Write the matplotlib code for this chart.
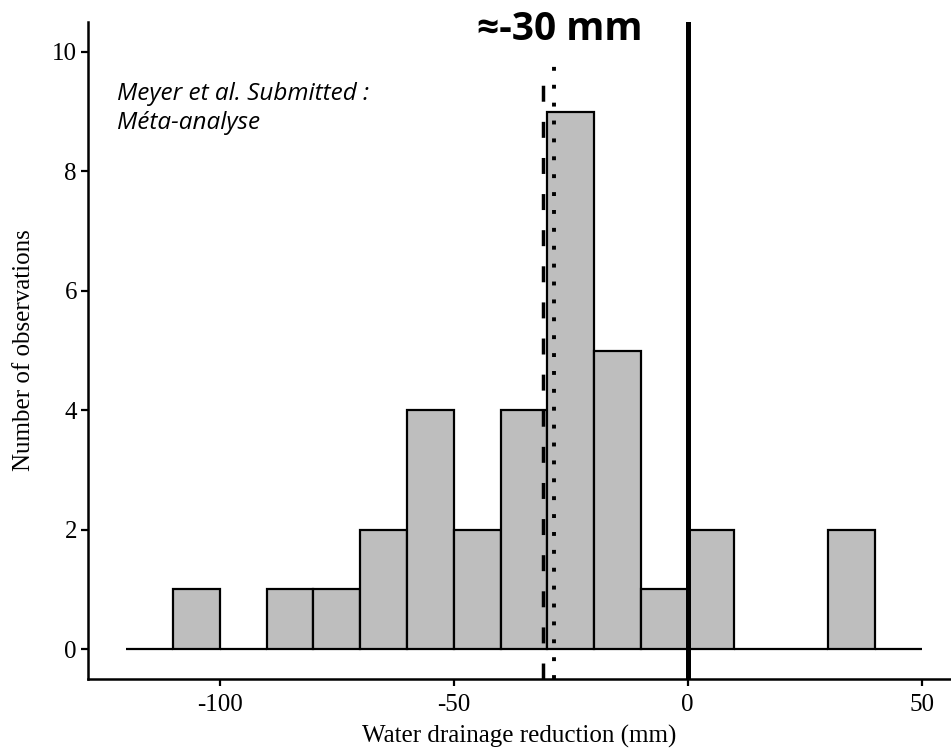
import matplotlib
matplotlib.use('Agg')
from matplotlib import pyplot as plt

# histogram counts, bins of 10 mm from -120 to 50
bin_edges = [-120, -110, -100, -90, -80, -70, -60, -50, -40, -30, -20, -10, 0, 10, 20, 30, 40, 50]
counts = [0, 1, 0, 1, 1, 2, 4, 2, 4, 9, 5, 1, 2, 0, 0, 2, 0]

median_line = -31
mean_line = -28.5
zero_line = 0

x_ticks = [-100, -50, 0, 50]
x_ticklabels = ['-100', '-50', '0', '50']
y_ticks = [0, 2, 4, 6, 8, 10]

fig = plt.figure(figsize=(9.51, 7.48), dpi=100)
ax = fig.add_axes([88 / 951, 1 - 679 / 748, 1 - 88 / 951, (679 - 22) / 748])

lefts = bin_edges[:-1]
ax.bar(lefts, counts, width=10, align='edge', color='#bebebe', edgecolor='black',
       linewidth=1.6, zorder=2)

ax.axvline(zero_line, color='black', linewidth=3.6, zorder=3)
ax.axvline(median_line, ymax=(9.77 + 0.5) / 11, color='black', linewidth=2.5,
           linestyle=(0, (4.6, 5.8)), zorder=3)
ax.axvline(mean_line, ymax=(9.77 + 0.5) / 11, color='black', linewidth=2.8,
           linestyle=(0, (1.0, 3.6)), zorder=3)

ax.set_xlim(-128.2, 56.3)
ax.set_ylim(-0.5, 10.5)
ax.set_xticks(x_ticks)
ax.set_xticklabels(x_ticklabels)
ax.set_yticks(y_ticks)

for s in ['top', 'right']:
    ax.spines[s].set_visible(False)
for s in ['left', 'bottom']:
    ax.spines[s].set_linewidth(1.8)

serif = 'Liberation Serif'
ax.tick_params(length=5, width=1.6, pad=3, labelsize=18)
ax.tick_params(axis='x', pad=6)
for lab in ax.get_xticklabels() + ax.get_yticklabels():
    lab.set_family(serif)

ax.set_xlabel('Water drainage reduction (mm)', family=serif, fontsize=18, labelpad=6)
ax.set_ylabel('Number of observations', family=serif, fontsize=18, labelpad=12)

fig.text(560 / 951, 1 - 30 / 748, '≈-30 mm', ha='center', va='center',
         family=['Open Sans', 'DejaVu Sans'], fontweight='bold', fontsize=28)
fig.text(117 / 951, 1 - 82 / 748, 'Meyer et al. Submitted :\nMéta-analyse',
         ha='left', va='top', family='Open Sans', style='italic', fontsize=17.5,
         linespacing=1.3)

plt.savefig('out.png', dpi=100)
